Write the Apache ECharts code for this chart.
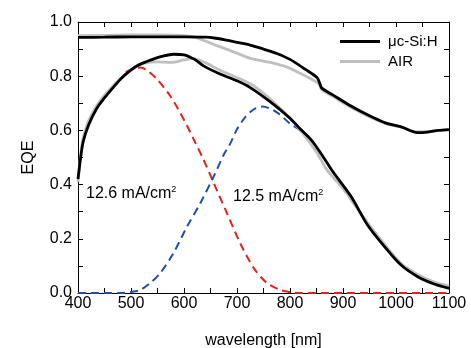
<!DOCTYPE html>
<html>
<head>
<meta charset="utf-8">
<script src="https://cdn.jsdelivr.net/npm/echarts@6/dist/echarts.min.js"></script>
<style>
  html, body { margin: 0; padding: 0; background: #fff; }
  #chart { width: 471px; height: 348px; }
</style>
</head>
<body>
<div id="chart"></div>
<script>
// x axis ticks
var xTicks = [400, 500, 600, 700, 800, 900, 1000, 1100];
var yTicks = [0.0, 0.2, 0.4, 0.6, 0.8, 1.0];

// upper curves (1 - R)
var topSiWl  = [400, 450, 500, 550, 600, 640, 660, 680, 700, 725, 750, 775, 800, 830, 851, 856, 860, 880, 915, 950, 980, 1010, 1040, 1060, 1080, 1100];
var topSiVal = [0.943, 0.944, 0.945, 0.945, 0.945, 0.944, 0.94, 0.933, 0.925, 0.915, 0.9, 0.884, 0.862, 0.824, 0.795, 0.775, 0.756, 0.732, 0.69, 0.654, 0.628, 0.613, 0.592, 0.594, 0.6, 0.603];
var topAirWl  = [400, 450, 500, 550, 600, 620, 640, 660, 680, 700, 725, 763, 788, 820, 851, 856, 860, 880, 915, 950, 980, 1010, 1040, 1060, 1080, 1100];
var topAirVal = [0.95, 0.951, 0.952, 0.952, 0.95, 0.944, 0.93, 0.914, 0.9, 0.885, 0.866, 0.851, 0.838, 0.81, 0.777, 0.766, 0.75, 0.727, 0.685, 0.65, 0.625, 0.612, 0.595, 0.596, 0.6, 0.603];

// EQE curves
var eqeSiWl  = [400, 405, 410, 420, 435, 450, 465, 480, 495, 511, 542, 560, 580, 600, 620, 637, 669, 700, 725, 763, 800, 820, 840, 860, 880, 915, 946, 978, 1009, 1041, 1072, 1100];
var eqeSiVal = [0.42, 0.5, 0.56, 0.62, 0.68, 0.72, 0.755, 0.789, 0.815, 0.838, 0.863, 0.874, 0.881, 0.879, 0.862, 0.838, 0.807, 0.783, 0.758, 0.705, 0.645, 0.604, 0.565, 0.51, 0.45, 0.357, 0.252, 0.172, 0.104, 0.06, 0.033, 0.017];
var eqeAirWl  = [400, 405, 410, 420, 435, 450, 480, 511, 530, 550, 575, 600, 615, 640, 670, 700, 732, 763, 790, 820, 851, 869, 900, 946, 978, 1009, 1041, 1072, 1100];
var eqeAirVal = [0.41, 0.51, 0.575, 0.635, 0.69, 0.73, 0.79, 0.838, 0.85, 0.853, 0.851, 0.86, 0.866, 0.85, 0.82, 0.795, 0.764, 0.715, 0.665, 0.6, 0.517, 0.456, 0.385, 0.26, 0.18, 0.11, 0.068, 0.04, 0.025];

// sub-cell EQE (dashed)
var topCellWl  = [490, 505, 517, 530, 549, 574, 590, 606, 620, 635, 656, 681, 706, 732, 757, 782, 800, 820, 1100];
var topCellVal = [0.815, 0.828, 0.832, 0.822, 0.789, 0.727, 0.675, 0.616, 0.56, 0.5, 0.406, 0.295, 0.184, 0.091, 0.036, 0.011, 0.003, 0, 0];
var botCellWl  = [400, 480, 500, 517, 535, 555, 580, 606, 631, 656, 675, 688, 700, 716, 732, 748, 763, 780, 800, 820, 851, 869, 900, 946, 978, 1009, 1041, 1072, 1100];
var botCellVal = [0, 0, 0.004, 0.011, 0.035, 0.073, 0.147, 0.246, 0.332, 0.43, 0.51, 0.554, 0.604, 0.65, 0.678, 0.688, 0.68, 0.66, 0.625, 0.598, 0.517, 0.456, 0.385, 0.26, 0.18, 0.11, 0.068, 0.04, 0.025];

var legendNames = ['\u03bcc-Si:H', 'AIR'];
var currents = ['12.6 mA/cm', '12.5 mA/cm'];

function zip(a, b) {
    return a.map(function (v, i) { return [v, b[i]]; });
}

var FONT = 'Liberation Sans, Arial, sans-serif';
var GRAY = '#c0c0c0';

var chart = echarts.init(document.getElementById('chart'));

var axisX = {
    type: 'value',
    min: xTicks[0],
    max: xTicks[xTicks.length - 1],
    interval: 100,
    axisLine: { show: true, onZero: false, lineStyle: { color: '#000', width: 1 } },
    axisTick: { show: true, inside: true, length: 5, lineStyle: { color: '#000' } },
    minorTick: { show: true, splitNumber: 2, length: 5, lineStyle: { color: '#000' } },
    splitLine: { show: false },
    minorSplitLine: { show: false }
};
var axisY = {
    type: 'value',
    min: yTicks[0],
    max: yTicks[yTicks.length - 1],
    interval: 0.2,
    axisLine: { show: true, onZero: false, lineStyle: { color: '#000', width: 1 } },
    axisTick: { show: true, inside: true, length: 5, lineStyle: { color: '#000' } },
    minorTick: { show: true, splitNumber: 2, length: 5, lineStyle: { color: '#000' } },
    splitLine: { show: false },
    minorSplitLine: { show: false }
};

function solid(name, data, color, z) {
    return {
        name: name, type: 'line', data: data, showSymbol: false, symbol: 'none',
        smooth: 0.3, z: z, lineStyle: { color: color, width: 2.8 }, itemStyle: { color: color }
    };
}
function dashed(data, color) {
    return {
        type: 'line', data: data, showSymbol: false, symbol: 'none', smooth: 0.3, z: 2,
        lineStyle: { color: color, width: 2, type: [8, 5] }, silent: true
    };
}

var option = {
    animation: false,
    backgroundColor: '#fff',
    textStyle: { fontFamily: FONT },
    grid: { left: 78, right: 22, top: 22, bottom: 55, containLabel: false, outerBoundsMode: 'none' },
    xAxis: [
        Object.assign({}, axisX, {
            position: 'bottom',
            name: 'wavelength [nm]',
            nameLocation: 'middle',
            nameGap: 40,
            nameTextStyle: { fontSize: 16, color: '#000', fontFamily: FONT },
            axisLabel: {
                fontSize: 16, color: '#000', margin: 3, fontFamily: FONT,
                formatter: function (v) { return String(v); }
            }
        }),
        Object.assign({}, axisX, { position: 'top', axisLabel: { show: false } })
    ],
    yAxis: [
        Object.assign({}, axisY, {
            position: 'left',
            name: 'EQE',
            nameLocation: 'middle',
            nameGap: 41,
            nameTextStyle: { fontSize: 16, color: '#000', fontFamily: FONT },
            axisLabel: {
                fontSize: 16, color: '#000', margin: 6, fontFamily: FONT,
                formatter: function (v) { return v.toFixed(1); }
            }
        }),
        Object.assign({}, axisY, { position: 'right', axisLabel: { show: false } })
    ],
    legend: {
        data: legendNames,
        orient: 'vertical',
        left: 335,
        top: 29,
        icon: 'rect',
        itemWidth: 40,
        itemHeight: 3,
        itemGap: 5,
        textStyle: { fontSize: 15, color: '#000', fontFamily: FONT, padding: [0, 0, 0, 3] }
    },
    series: [
        dashed(zip(topCellWl, topCellVal), '#e32219'),
        dashed(zip(botCellWl, botCellVal), '#1f4fa6'),
        solid(legendNames[0], zip(topSiWl, topSiVal), '#000', 4),
        solid(legendNames[1], zip(topAirWl, topAirVal), GRAY, 3),
        solid(legendNames[0], zip(eqeSiWl, eqeSiVal), '#000', 4),
        solid(legendNames[1], zip(eqeAirWl, eqeAirVal), GRAY, 3)
    ],
    graphic: [
        {
            type: 'text', left: 86, top: 185, z: 10,
            style: {
                text: currents[0] + '{s|2}', fontSize: 16, fill: '#000', fontFamily: FONT,
                rich: { s: { fontSize: 9, verticalAlign: 'top', padding: [0, 0, 9, 0] } }
            }
        },
        {
            type: 'text', left: 233, top: 188, z: 10,
            style: {
                text: currents[1] + '{s|2}', fontSize: 16, fill: '#000', fontFamily: FONT,
                rich: { s: { fontSize: 9, verticalAlign: 'top', padding: [0, 0, 9, 0] } }
            }
        }
    ]
};

chart.setOption(option);
</script>
</body>
</html>
